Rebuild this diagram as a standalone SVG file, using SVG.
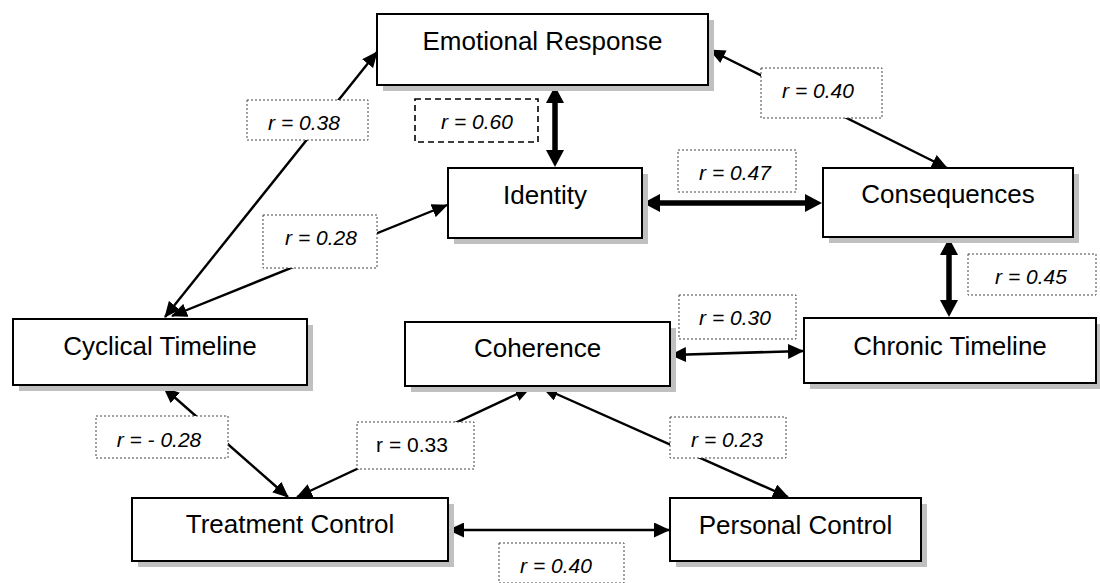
<svg xmlns="http://www.w3.org/2000/svg" width="1100" height="583" viewBox="0 0 1100 583">
<style>
.shadow{fill:#c0c0c0;stroke:none}
.box{fill:#fff;stroke:#000;stroke-width:2}
.nt{font-family:"Liberation Sans",Arial,sans-serif;font-size:26px;text-anchor:middle;fill:#000}
.lb{fill:#fff;stroke:#444;stroke-width:1;stroke-dasharray:2,2}
.lbd{fill:#fff;stroke:#000;stroke-width:1.6;stroke-dasharray:6,4}
.lt{font-family:"Liberation Sans",Arial,sans-serif;font-size:21px;font-style:italic;text-anchor:middle;fill:#000}
.lt2{font-family:"Liberation Sans",Arial,sans-serif;font-size:21px;text-anchor:middle;fill:#000}
.thin{stroke:#000;stroke-width:2.4;fill:none;marker-start:url(#ah);marker-end:url(#ah)}
.med{stroke:#000;stroke-width:2.7;fill:none;marker-start:url(#am);marker-end:url(#am)}
.thick{stroke:#000;stroke-width:5.5;fill:none;marker-start:url(#at);marker-end:url(#at)}
</style>
<defs>
<marker id="ah" markerUnits="userSpaceOnUse" markerWidth="16" markerHeight="14" refX="15" refY="7" orient="auto-start-reverse"><path d="M0,0 L16,7 L0,14 z" fill="#000"/></marker>
<marker id="am" markerUnits="userSpaceOnUse" markerWidth="16" markerHeight="15" refX="15" refY="7.5" orient="auto-start-reverse"><path d="M0,0 L16,7.5 L0,15 z" fill="#000"/></marker>
<marker id="at" markerUnits="userSpaceOnUse" markerWidth="17" markerHeight="18" refX="9" refY="9" orient="auto-start-reverse"><path d="M0,0 L17,9 L0,18 z" fill="#000"/></marker>
</defs>
<rect width="1100" height="583" fill="#fff"/>
<g id="connectors">
<line class="thin" x1="377" y1="52" x2="165" y2="317"/>
<line class="thin" x1="447" y1="205" x2="172" y2="316"/>
<line class="thick" x1="555" y1="94" x2="555" y2="159"/>
<line class="thick" x1="651" y1="203" x2="814" y2="203"/>
<line class="thin" x1="710" y1="50" x2="947" y2="168"/>
<line class="thick" x1="949" y1="246" x2="949" y2="309"/>
<line class="med" x1="671" y1="355" x2="803" y2="351"/>
<line class="thin" x1="164" y1="388" x2="288" y2="497"/>
<line class="thin" x1="297" y1="497" x2="530" y2="388"/>
<line class="thin" x1="788" y1="497" x2="543" y2="388"/>
<line class="med" x1="449" y1="530" x2="669" y2="530"/>
</g>
<g id="labels">
<rect class="lbd" x="415" y="99" width="123" height="43"/><text class="lt" x="477" y="129">r = 0.60</text>
<rect class="lb" x="247" y="100" width="121" height="40"/><text class="lt" x="304" y="130">r = 0.38</text>
<rect class="lb" x="761" y="68" width="121" height="50"/><text class="lt" x="818" y="98">r = 0.40</text>
<rect class="lb" x="678" y="150" width="118" height="42"/><text class="lt" x="735" y="180">r = 0.47</text>
<rect class="lb" x="968" y="254" width="128" height="41"/><text class="lt" x="1031" y="284">r = 0.45</text>
<rect class="lb" x="679" y="295" width="117" height="44"/><text class="lt" x="735" y="325">r = 0.30</text>
<rect class="lb" x="263" y="215" width="114" height="53"/><text class="lt" x="321" y="245">r = 0.28</text>
<rect class="lb" x="96" y="416" width="132" height="42"/><text class="lt" x="159" y="447">r = - 0.28</text>
<rect class="lb" x="357" y="422" width="117" height="47"/><text class="lt2" x="412" y="452">r = 0.33</text>
<rect class="lb" x="670" y="417" width="116" height="41"/><text class="lt" x="727" y="447">r = 0.23</text>
<rect class="lb" x="499" y="543" width="125" height="40"/><text class="lt" x="556" y="573">r = 0.40</text>
</g>
<g id="node-emotional-response">
<rect class="shadow" x="383" y="20" width="331" height="71"/>
<rect class="box" x="377" y="14" width="331" height="71"/>
<text class="nt" x="542.5" y="50">Emotional Response</text>
</g>
<g id="node-identity">
<rect class="shadow" x="454" y="174" width="194" height="70"/>
<rect class="box" x="448" y="168" width="194" height="70"/>
<text class="nt" x="545" y="204">Identity</text>
</g>
<g id="node-consequences">
<rect class="shadow" x="829" y="174" width="250" height="69"/>
<rect class="box" x="823" y="168" width="250" height="69"/>
<text class="nt" x="948" y="203">Consequences</text>
</g>
<g id="node-chronic-timeline">
<rect class="shadow" x="810" y="324" width="292" height="65"/>
<rect class="box" x="804" y="318" width="292" height="65"/>
<text class="nt" x="950" y="355">Chronic Timeline</text>
</g>
<g id="node-cyclical-timeline">
<rect class="shadow" x="19" y="325" width="294" height="66"/>
<rect class="box" x="13" y="319" width="294" height="66"/>
<text class="nt" x="160" y="355">Cyclical Timeline</text>
</g>
<g id="node-coherence">
<rect class="shadow" x="411" y="328" width="265" height="64"/>
<rect class="box" x="405" y="322" width="265" height="64"/>
<text class="nt" x="537.5" y="357">Coherence</text>
</g>
<g id="node-treatment-control">
<rect class="shadow" x="138" y="504" width="316" height="63"/>
<rect class="box" x="132" y="498" width="316" height="63"/>
<text class="nt" x="290" y="533">Treatment Control</text>
</g>
<g id="node-personal-control">
<rect class="shadow" x="676" y="504" width="251" height="63"/>
<rect class="box" x="670" y="498" width="251" height="63"/>
<text class="nt" x="795.5" y="534">Personal Control</text>
</g>
</svg>
